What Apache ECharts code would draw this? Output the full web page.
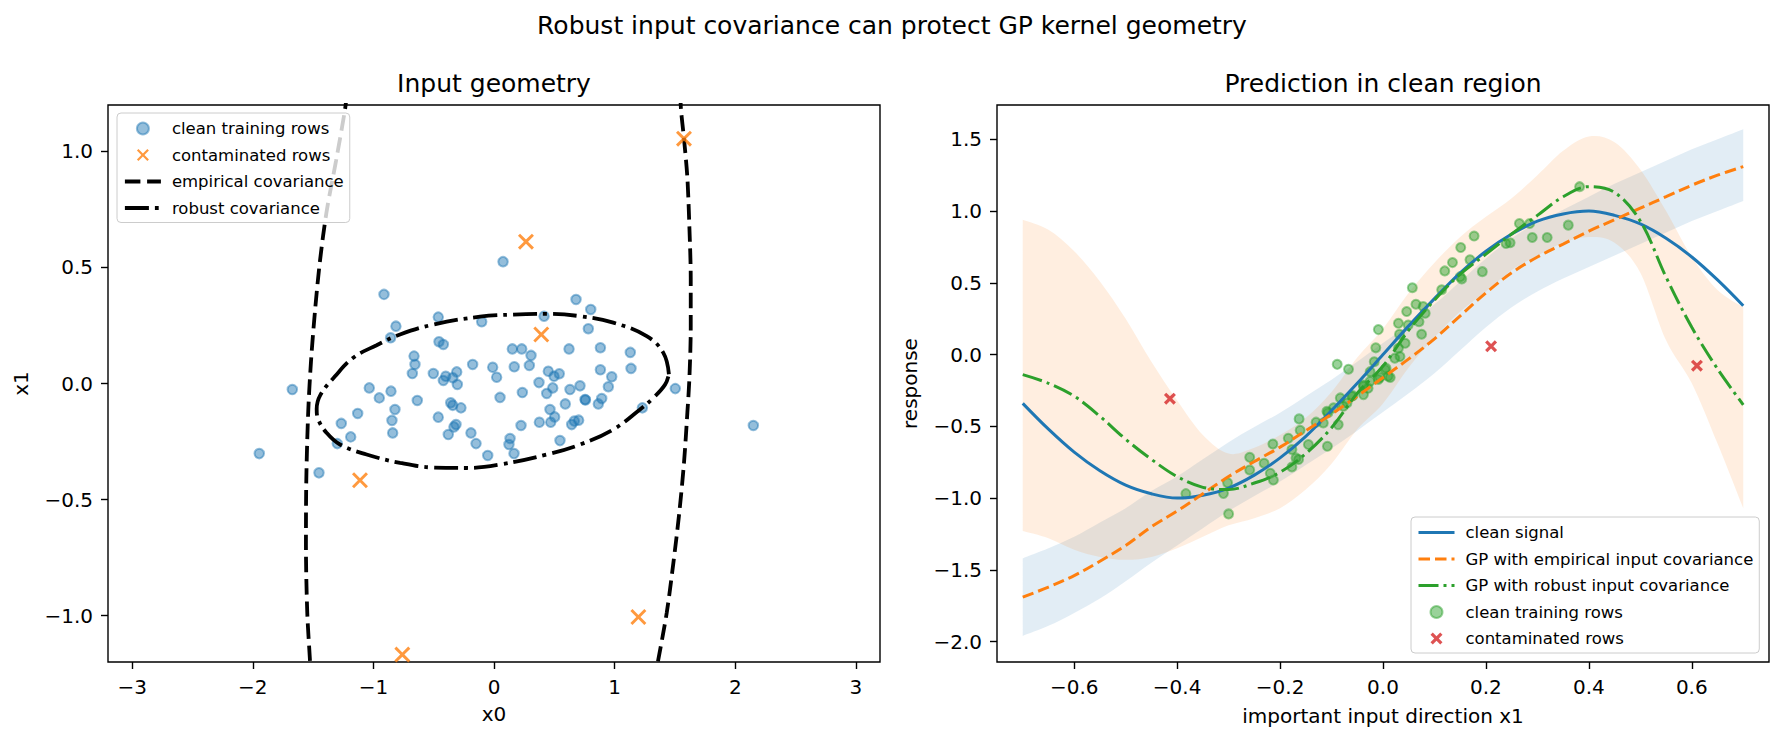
<!DOCTYPE html>
<html>
<head>
<meta charset="utf-8">
<title>Robust input covariance can protect GP kernel geometry</title>
<script src="https://cdn.jsdelivr.net/npm/echarts@6/dist/echarts.min.js"></script>
<style>
  html, body { margin: 0; padding: 0; background: #fff; }
  #chart { width: 1784px; height: 740px; }
</style>
</head>
<body>
<div id="chart"></div>
<script>
// ---------- left panel: input geometry ----------
const cleanRows = [
  [0.075, 0.525], [-0.912, 0.384], [-0.462, 0.286], [-0.102, 0.266], [-0.813, 0.247],
  [-0.857, 0.197], [-0.456, 0.18], [-0.42, 0.168], [-0.663, 0.118], [-0.655, 0.082],
  [-0.677, 0.043], [-0.503, 0.043], [-0.40, 0.031], [-0.309, 0.05], [-0.342, 0.025],
  [-0.42, 0.013], [-0.304, -0.004], [-0.177, 0.082], [-0.011, 0.07], [0.022, 0.027],
  [0.05, -0.06], [-1.672, -0.026], [-1.034, -0.019], [-0.951, -0.062], [-0.854, -0.033],
  [-0.636, -0.073], [-0.821, -0.112], [-0.359, -0.083], [-0.342, -0.094], [-0.274, -0.105],
  [-1.13, -0.129], [-1.266, -0.172], [-1.188, -0.23], [-1.299, -0.259], [-0.846, -0.159],
  [-0.84, -0.213], [-0.462, -0.145], [-0.315, -0.177], [-0.332, -0.187], [-0.379, -0.22],
  [-0.191, -0.213], [-0.149, -0.259], [-0.052, -0.31], [-1.946, -0.302], [-1.451, -0.385],
  [0.68, 0.362], [0.802, 0.319], [0.782, 0.236], [0.415, 0.29], [0.152, 0.149],
  [0.23, 0.149], [0.307, 0.121], [0.622, 0.149], [0.882, 0.154], [1.13, 0.134],
  [0.168, 0.072], [0.293, 0.078], [0.45, 0.053], [0.498, 0.031], [0.541, 0.042],
  [0.882, 0.059], [0.976, 0.029], [1.136, 0.065], [0.373, 0.004], [0.487, -0.019],
  [0.437, -0.043], [0.63, -0.026], [0.713, -0.01], [0.948, -0.014], [1.503, -0.022],
  [0.235, -0.039], [0.755, -0.069], [0.758, -0.071], [0.591, -0.088], [0.865, -0.088],
  [0.893, -0.065], [0.464, -0.112], [1.23, -0.105], [0.503, -0.144], [0.47, -0.167],
  [0.376, -0.167], [0.224, -0.181], [0.644, -0.177], [0.666, -0.162], [0.702, -0.158],
  [0.547, -0.246], [0.133, -0.237], [0.124, -0.263], [0.166, -0.302], [2.15, -0.181]
];
const contaminatedRows = [
  [0.265, 0.611], [1.575, 1.055], [0.392, 0.211], [-1.111, -0.417], [-0.76, -1.168], [1.197, -1.006]
];
// empirical covariance ellipse: only its two flanks fall inside the view
const empiricalLeftArc = [
  [-1.22, 1.25], [-1.235, 1.181], [-1.31, 0.958], [-1.387, 0.743], [-1.443, 0.527], [-1.484, 0.312],
  [-1.517, 0.096], [-1.54, -0.12], [-1.556, -0.414], [-1.559, -0.701], [-1.548, -0.988],
  [-1.526, -1.19], [-1.52, -1.25]
];
const empiricalRightArc = [
  [1.545, 1.25], [1.55, 1.181], [1.575, 1.055], [1.603, 0.887], [1.62, 0.671], [1.631, 0.455],
  [1.631, 0.24], [1.62, 0.024], [1.603, -0.126], [1.575, -0.342], [1.536, -0.557],
  [1.487, -0.773], [1.432, -0.988], [1.362, -1.19], [1.34, -1.25]
];
const robustEllipse = [
  [1.45, 0.04], [1.404, 0.132], [1.266, 0.204], [0.989, 0.262], [0.713, 0.29], [0.437, 0.30],
  [0.16, 0.297], [-0.116, 0.288], [-0.503, 0.254], [-0.779, 0.211], [-0.973, 0.165],
  [-1.167, 0.111], [-1.318, 0.031], [-1.44, -0.05], [-1.47, -0.11], [-1.457, -0.155],
  [-1.387, -0.213], [-1.277, -0.263], [-1.056, -0.306], [-0.779, -0.342], [-0.503, -0.362],
  [-0.226, -0.364], [0.05, -0.349], [0.437, -0.306], [0.713, -0.263], [0.989, -0.198],
  [1.21, -0.112], [1.321, -0.062], [1.418, -0.005], [1.45, 0.04]
];
const leftXTicks = [-3, -2, -1, 0, 1, 2, 3];
const leftYTicks = [-1.0, -0.5, 0.0, 0.5, 1.0];

// ---------- right panel: prediction in clean region ----------
const gridX = [-0.70, -0.65, -0.60, -0.55, -0.50, -0.45, -0.40, -0.35, -0.30, -0.25, -0.20, -0.15, -0.10, -0.05,
  0.00, 0.05, 0.10, 0.15, 0.20, 0.25, 0.30, 0.35, 0.40, 0.45, 0.50, 0.55, 0.60, 0.65, 0.70];
const cleanSignal = [-0.34, -0.52, -0.68, -0.81, -0.91, -0.97, -1.00, -0.98, -0.93, -0.84, -0.72, -0.57, -0.39, -0.20,
  0.00, 0.20, 0.39, 0.57, 0.72, 0.84, 0.93, 0.98, 1.00, 0.97, 0.91, 0.81, 0.68, 0.52, 0.34];
const gpEmpirical = [-1.69, -1.62, -1.54, -1.44, -1.33, -1.20, -1.09, -0.97, -0.85, -0.745, -0.645, -0.53, -0.415, -0.29,
  -0.16, -0.03, 0.11, 0.27, 0.43, 0.57, 0.68, 0.77, 0.86, 0.94, 1.02, 1.10, 1.18, 1.25, 1.31];
const gpEmpiricalLo = [-1.96, -1.89, -1.80, -1.70, -1.58, -1.45, -1.33, -1.21, -1.09, -0.985, -0.885, -0.77, -0.655, -0.53,
  -0.40, -0.27, -0.13, 0.03, 0.19, 0.33, 0.44, 0.53, 0.61, 0.69, 0.77, 0.85, 0.93, 1.00, 1.07];
const gpEmpiricalHi = [-1.42, -1.35, -1.27, -1.17, -1.07, -0.95, -0.85, -0.73, -0.61, -0.505, -0.405, -0.29, -0.175, -0.05,
  0.08, 0.21, 0.35, 0.51, 0.67, 0.81, 0.92, 1.01, 1.10, 1.19, 1.27, 1.35, 1.43, 1.50, 1.57];
const gpRobust = [-0.14, -0.20, -0.29, -0.43, -0.59, -0.73, -0.85, -0.925, -0.94, -0.895, -0.82, -0.69, -0.51, -0.27,
  -0.08, 0.17, 0.38, 0.56, 0.70, 0.84, 0.97, 1.10, 1.17, 1.13, 0.93, 0.54, 0.19, -0.10, -0.35];
const gpRobustLo = [-1.23, -1.28, -1.36, -1.41, -1.43, -1.41, -1.35, -1.27, -1.19, -1.14, -1.07, -0.94, -0.76, -0.52,
  -0.34, -0.09, 0.12, 0.30, 0.44, 0.59, 0.69, 0.78, 0.82, 0.78, 0.57, 0.10, -0.20, -0.62, -1.07];
const gpRobustHi = [0.94, 0.87, 0.72, 0.51, 0.25, -0.05, -0.32, -0.56, -0.69, -0.65, -0.56, -0.44, -0.26, -0.02,
  0.18, 0.43, 0.64, 0.82, 0.96, 1.09, 1.25, 1.42, 1.52, 1.48, 1.29, 1.00, 0.68, 0.45, 0.33];
const trainRows = [
  [-0.383, -0.969], [-0.302, -0.893], [-0.31, -0.967], [-0.30, -1.11], [-0.259, -0.716], [-0.259, -0.804],
  [-0.231, -0.757], [-0.214, -0.623], [-0.219, -0.827], [-0.213, -0.874], [-0.184, -0.583], [-0.163, -0.448],
  [-0.161, -0.528], [-0.177, -0.662], [-0.169, -0.72], [-0.177, -0.783], [-0.164, -0.731], [-0.145, -0.627],
  [-0.108, -0.639], [-0.13, -0.471], [-0.116, -0.476], [-0.087, -0.488], [-0.107, -0.406], [-0.096, -0.371],
  [-0.083, -0.302], [-0.07, -0.337], [-0.059, -0.286], [-0.038, -0.221], [-0.025, -0.186], [-0.009, -0.174],
  [-0.009, 0.174], [-0.014, 0.047], [-0.089, -0.068], [-0.067, -0.102], [-0.017, -0.05], [-0.025, -0.119],
  [-0.038, -0.212], [-0.029, -0.235], [-0.061, -0.29], [-0.038, -0.279], [-0.077, -0.36], [-0.109, -0.395],
  [0.004, -0.105], [0.01, -0.151], [-0.006, -0.16], [0.014, -0.16], [0.006, -0.095], [0.023, -0.025],
  [0.033, -0.014], [0.03, 0.044], [0.043, 0.079], [0.032, 0.142], [0.03, 0.218], [0.049, 0.206],
  [0.07, 0.229], [0.075, 0.142], [0.046, 0.30], [0.064, 0.351], [0.078, 0.335], [0.082, 0.288],
  [0.057, 0.466], [0.114, 0.452], [0.12, 0.583], [0.135, 0.641], [0.151, 0.746], [0.15, 0.543],
  [0.153, 0.527], [0.169, 0.661], [0.177, 0.826], [0.193, 0.578], [0.239, 0.774], [0.247, 0.779],
  [0.265, 0.913], [0.285, 0.913], [0.29, 0.816], [0.319, 0.816], [0.36, 0.902], [0.382, 1.17]
];
const badRows = [[-0.414, -0.307], [0.21, 0.058], [0.61, -0.077]];
const rightXTicks = [-0.6, -0.4, -0.2, 0.0, 0.2, 0.4, 0.6];
const rightYTicks = [-2.0, -1.5, -1.0, -0.5, 0.0, 0.5, 1.0, 1.5];

// ---------- styling helpers ----------
const FONT = 'DejaVu Sans';
const X_MARK = 'path://M0,13L13,0L50,37L87,0L100,13L63,50L100,87L87,100L50,63L13,100L0,87L37,50Z';
const X_MARK_BOLD = 'path://M0,19L19,0L50,31L81,0L100,19L69,50L100,81L81,100L50,69L19,100L0,81L31,50Z';

function tickFmt(digits) {
  return v => (v < 0 ? '\u2212' : '') + Math.abs(v).toFixed(digits);
}
function zip(xs, ys) { return xs.map((x, i) => [x, ys[i]]); }

function valueAxis(grid, min, max, ticks, digits, name, gap) {
  return {
    type: 'value', gridIndex: grid, min: min, max: max,
    name: name, nameLocation: 'middle', nameGap: gap,
    nameTextStyle: { fontFamily: FONT, fontSize: 20, color: '#000' },
    axisLine: { show: false, onZero: false },
    splitLine: { show: false },
    axisTick: { show: true, inside: false, length: 7, customValues: ticks,
      lineStyle: { color: '#000', width: 1.4 } },
    axisLabel: { show: true, margin: 15, customValues: ticks, formatter: tickFmt(digits),
      fontFamily: FONT, fontSize: 20, color: '#000' }
  };
}

// smooth curve through pixel points (Catmull-Rom as cubic Bezier)
function curveThrough(pts, start) {
  let d = (start ? 'M' : 'L') + pts[0][0] + ',' + pts[0][1];
  for (let i = 0; i < pts.length - 1; i++) {
    const p0 = pts[Math.max(i - 1, 0)], p1 = pts[i], p2 = pts[i + 1], p3 = pts[Math.min(i + 2, pts.length - 1)];
    const c1 = [p1[0] + (p2[0] - p0[0]) / 6, p1[1] + (p2[1] - p0[1]) / 6];
    const c2 = [p2[0] - (p3[0] - p1[0]) / 6, p2[1] - (p3[1] - p1[1]) / 6];
    d += 'C' + c1[0] + ',' + c1[1] + ' ' + c2[0] + ',' + c2[1] + ' ' + p2[0] + ',' + p2[1];
  }
  return d;
}

// shaded band between lo and hi, built once from the whole data set
function band(name, lo, hi, color) {
  return {
    name: name, type: 'custom', xAxisIndex: 1, yAxisIndex: 1, silent: true, z: 1,
    data: gridX.map((x, i) => [x, lo[i], hi[i]]),
    encode: { x: 0, y: [1, 2] },
    renderItem: (params, api) => {
      if (params.dataIndex !== 0) return null;
      const up = gridX.map((x, i) => api.coord([x, hi[i]]));
      const dn = gridX.map((x, i) => api.coord([x, lo[i]])).reverse();
      return {
        type: 'path',
        shape: { pathData: curveThrough(up, true) + curveThrough(dn, false) + 'Z' },
        style: { fill: color, stroke: null }
      };
    }
  };
}

const titleStyle = { fontFamily: FONT, fontSize: 25, fontWeight: 'normal', color: '#000' };
const legendBox = {
  orient: 'vertical', itemWidth: 36, itemHeight: 12, itemGap: 9.5,
  backgroundColor: 'rgba(255,255,255,0.8)', borderColor: '#cccccc', borderWidth: 1, borderRadius: 4,
  padding: [7, 6, 6, 6],
  textStyle: { fontFamily: FONT, fontSize: 16.5, color: '#000', padding: [0, 0, 0, 6] }
};
function lineItem(name, width) {
  return { name: name, itemStyle: { opacity: 0 }, lineStyle: { width: width } };
}

const option = {
  animation: false,
  backgroundColor: '#fff',
  textStyle: { fontFamily: FONT },
  title: [
    { text: 'Robust input covariance can protect GP kernel geometry', left: 892, top: 13,
      textAlign: 'center', padding: 0, textStyle: titleStyle },
    { text: 'Input geometry', left: 494, top: 71, textAlign: 'center', padding: 0, textStyle: titleStyle },
    { text: 'Prediction in clean region', left: 1383, top: 71, textAlign: 'center', padding: 0, textStyle: titleStyle }
  ],
  legend: [
    Object.assign({}, legendBox, { left: 117, top: 113,
      data: ['clean training rows', 'contaminated rows',
        lineItem('empirical covariance', 3.8), lineItem('robust covariance', 3.8)] }),
    Object.assign({}, legendBox, { left: 1411, top: 517,
      data: [lineItem('clean signal', 3), lineItem('GP with empirical input covariance', 3),
        lineItem('GP with robust input covariance', 3), 'R:clean training rows', 'R:contaminated rows'],
      formatter: n => n.replace(/^R:/, '') })
  ],
  grid: [
    { left: 108, top: 105, width: 772, height: 557, show: true, borderColor: '#000', borderWidth: 1.4 },
    { left: 997, top: 105, width: 772, height: 557, show: true, borderColor: '#000', borderWidth: 1.4 }
  ],
  xAxis: [
    valueAxis(0, -3.2, 3.2, leftXTicks, 0, 'x0', 42),
    valueAxis(1, -0.75, 0.75, rightXTicks, 1, 'important input direction x1', 44)
  ],
  yAxis: [
    valueAxis(0, -1.2, 1.2, leftYTicks, 1, 'x1', 77),
    valueAxis(1, -2.142, 1.739, rightYTicks, 1, 'response', 77)
  ],
  series: [
    // left panel
    { name: 'clean training rows', type: 'scatter', xAxisIndex: 0, yAxisIndex: 0, data: cleanRows,
      symbol: 'circle', symbolSize: 9.5,
      itemStyle: { color: 'rgba(31,119,180,0.6)', borderColor: 'rgba(31,119,180,0.6)', borderWidth: 2 } },
    { name: 'contaminated rows', type: 'scatter', xAxisIndex: 0, yAxisIndex: 0, data: contaminatedRows,
      symbol: X_MARK, symbolSize: 16, itemStyle: { color: '#ff7f0e' }, z: 3 },
    { name: 'empirical covariance', type: 'line', xAxisIndex: 0, yAxisIndex: 0, data: empiricalLeftArc,
      symbol: 'none', smooth: 0.3, itemStyle: { color: '#000' },
      lineStyle: { color: '#000', width: 3.8, type: [15.5, 6.7] } },
    { name: 'empirical covariance', type: 'line', xAxisIndex: 0, yAxisIndex: 0, data: empiricalRightArc,
      symbol: 'none', smooth: 0.3, itemStyle: { color: '#000' },
      lineStyle: { color: '#000', width: 3.8, type: [15.5, 6.7] } },
    { name: 'robust covariance', type: 'line', xAxisIndex: 0, yAxisIndex: 0, data: robustEllipse,
      symbol: 'none', smooth: 0.4, itemStyle: { color: '#000' },
      lineStyle: { color: '#000', width: 3.8, type: [24, 6, 3.8, 6] } },

    // right panel
    band('empirical band', gpEmpiricalLo, gpEmpiricalHi, 'rgba(31,119,180,0.13)'),
    band('robust band', gpRobustLo, gpRobustHi, 'rgba(255,127,14,0.13)'),
    { name: 'clean signal', type: 'line', xAxisIndex: 1, yAxisIndex: 1, data: zip(gridX, cleanSignal),
      symbol: 'none', smooth: 0.35, lineStyle: { color: '#1f77b4', width: 3 }, itemStyle: { color: '#1f77b4' }, z: 3 },
    { name: 'GP with empirical input covariance', type: 'line', xAxisIndex: 1, yAxisIndex: 1,
      data: zip(gridX, gpEmpirical), symbol: 'none', smooth: 0.35,
      lineStyle: { color: '#ff7f0e', width: 3, type: [11.5, 5] }, itemStyle: { color: '#ff7f0e' }, z: 3 },
    { name: 'GP with robust input covariance', type: 'line', xAxisIndex: 1, yAxisIndex: 1,
      data: zip(gridX, gpRobust), symbol: 'none', smooth: 0.35,
      lineStyle: { color: '#2ca02c', width: 3, type: [20, 5, 3, 5] }, itemStyle: { color: '#2ca02c' }, z: 3 },
    { name: 'R:clean training rows', type: 'scatter', xAxisIndex: 1, yAxisIndex: 1, data: trainRows,
      symbol: 'circle', symbolSize: 9,
      itemStyle: { color: 'rgba(44,160,44,0.6)', borderColor: 'rgba(44,160,44,0.6)', borderWidth: 2 }, z: 2 },
    { name: 'R:contaminated rows', type: 'scatter', xAxisIndex: 1, yAxisIndex: 1, data: badRows,
      symbol: X_MARK_BOLD, symbolSize: 12, itemStyle: { color: '#d62728' }, z: 4 }
  ]
};

const chart = echarts.init(document.getElementById('chart'), null, { renderer: 'svg' });
chart.setOption(option);
</script>
</body>
</html>
